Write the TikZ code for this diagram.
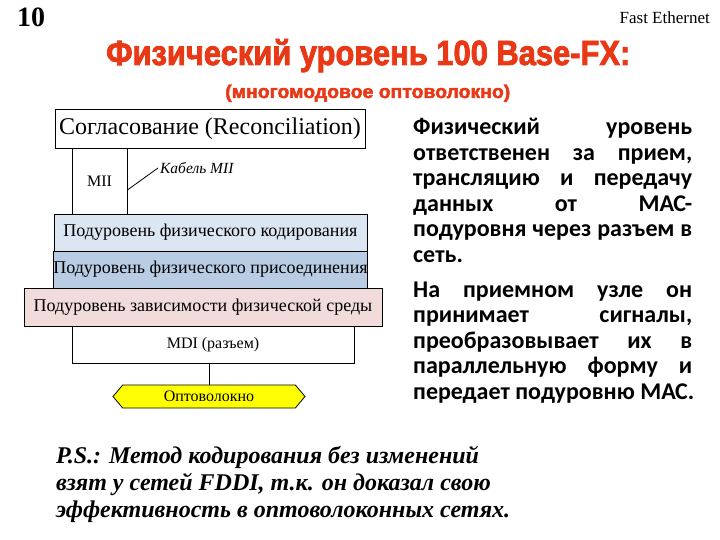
\documentclass[tikz,border=0pt]{standalone}
\usepackage{fontspec}
\setmainfont{Liberation Serif}
\newfontfamily\calib{Carlito}
\newfontfamily\titlefont{Liberation Sans}[BoldFeatures={FakeBold=2.5}]
\usetikzlibrary{shapes.symbols}
\definecolor{titlered}{RGB}{232,56,22}
\definecolor{codeblue}{RGB}{220,230,242}
\definecolor{attblue}{RGB}{184,204,228}
\definecolor{pmdpink}{RGB}{242,220,219}
\definecolor{fibre}{RGB}{255,255,0}
\tikzset{
  layer/.style={draw=black, line width=0.8pt, inner sep=0pt, font=\fontsize{18}{21}\selectfont},
  conn/.style={draw=black, line width=0.8pt},
}
\begin{document}
\begin{tikzpicture}[x=1pt,y=-1pt]
\useasboundingbox (0,0) rectangle (720,540);
% header
\node[anchor=base west, inner sep=0pt, font=\bfseries\fontsize{28}{30}\selectfont] (num) at (17,27) {10};
\node[anchor=base east, inner sep=0pt, font=\fontsize{17}{19}\selectfont] (topic) at (710,24) {Fast Ethernet};
\node[anchor=base west, inner sep=0pt, text=titlered] (title) at (106,65)
  {\resizebox{524pt}{26pt}{\titlefont\bfseries Физический уровень 100 Base-FX:}};
\node[anchor=base west, inner sep=0pt, text=titlered] (subtitle) at (225,98)
  {\resizebox{285pt}{13.5pt}{\titlefont\bfseries (многомодовое оптоволокно)}};
% stack
\node[layer, minimum width=310pt, minimum height=39pt, font=\fontsize{24}{28}\selectfont] (recon) at (210,128.5) {Согласование (Reconciliation)};
\node[layer, minimum width=55pt, minimum height=66pt, font=\fontsize{16}{18}\selectfont] (mii) at (99.5,181) {МII};
\node[anchor=west, inner sep=2pt, font=\itshape\fontsize{15.5}{18}\selectfont] (cable) at (158,168) {Кабель МII};
\draw[conn] ([yshift=-9pt]mii.east) -- (cable.west);
\node[layer, fill=codeblue, minimum width=313pt, minimum height=37pt] (coding) at (210.5,232.5) {Подуровень физического кодирования};
\node[layer, fill=attblue, minimum width=313pt, minimum height=37pt] (attach) at (210.5,269.5) {Подуровень физического присоединения};
\node[layer, fill=pmdpink, minimum width=358pt, minimum height=38pt] (pmd) at (203,307) {Подуровень зависимости физической среды};
\node[layer, fill=white, minimum width=282pt, minimum height=37pt, font=\fontsize{16}{18}\selectfont] (mdi) at (213,344.5) {MDI (разъем)};
\node[draw=black, line width=0.8pt, fill=fibre, signal, signal to=west and east, signal pointer angle=100,
      minimum width=192pt, minimum height=23pt, inner sep=0pt, font=\fontsize{16}{18}\selectfont] (fib) at (209,396.5) {Оптоволокно};
\draw[conn] (fib.north) -- (fib.north |- mdi.south);
% description
\node[anchor=north west, inner sep=0pt, align=left, font=\calib\bfseries\fontsize{24}{25.5}\selectfont] (desc) at (413,118) {%
\makebox[279pt][s]{Физический уровень}\\
\makebox[279pt][s]{ответственен за прием,}\\
\makebox[279pt][s]{трансляцию и передачу}\\
\makebox[279pt][s]{данных от МАС-}\\
\makebox[279pt][s]{подуровня через разъем в}\\
сеть.\\[9.5pt]
\makebox[279pt][s]{На приемном узле он}\\
\makebox[279pt][s]{принимает сигналы,}\\
\makebox[279pt][s]{преобразовывает их в}\\
\makebox[279pt][s]{параллельную форму и}\\
передает подуровню МАС.};
% P.S.
\node[anchor=north west, inner sep=0pt, align=left, font=\bfseries\itshape\fontsize{24}{27}\selectfont] (ps) at (56,446) {%
P.S.: Метод кодирования без изменений\\
взят у сетей FDDI, т.к. он доказал свою\\
эффективность в оптоволоконных сетях.};
\end{tikzpicture}
\end{document}
